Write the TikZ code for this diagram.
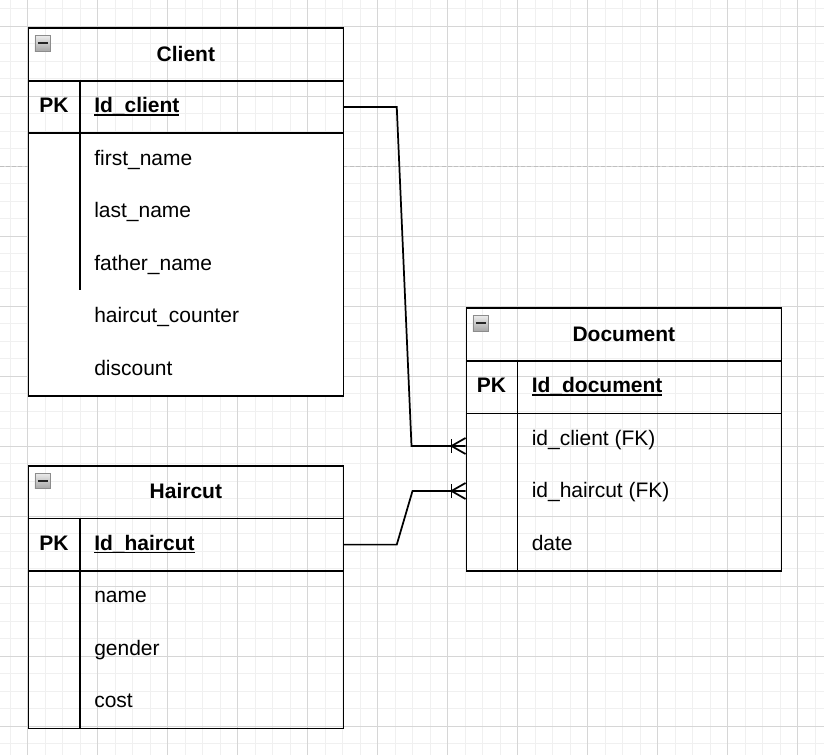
\documentclass[tikz,border=0pt]{standalone}
\usepackage{fontspec}
\setmainfont{Liberation Sans}
\newcommand\myul[1]{\setbox0\hbox{#1}\rlap{\rule[-2.1pt]{\wd0}{1pt}}\box0}
\begin{document}
\begin{tikzpicture}[x=0.75pt,y=-0.75pt,
  minorgrid/.style={draw=black!6, line width=0.75pt},
  majorgrid/.style={draw=black!16, line width=0.75pt},
  pagebreak/.style={draw=black!25, line width=0.9pt, dash pattern=on 3pt off 1.6pt},
  tbl/.style={draw, line width=1.3pt, inner sep=0pt, anchor=north west, minimum width=236.25pt},
  hdr/.style={tbl, minimum height=39.375pt, font=\fontsize{15.75}{18}\selectfont\bfseries, text height=0.98em, text depth=0pt},
  pkrow/.style={tbl, minimum height=39.375pt},
  txt/.style={inner sep=0pt, font=\fontsize{15.75}{18}\selectfont, text height=0.98em, text depth=0pt},
  fld/.style={txt, anchor=west},
  keyfld/.style={txt, anchor=west, font=\fontsize{15.75}{18}\selectfont\bfseries},
  pklab/.style={txt, font=\fontsize{15.75}{18}\selectfont\bfseries},
  divider/.style={line width=1.3pt},
  conn/.style={line width=1.3pt, line join=miter},
  minusicon/.style={draw=black!45, line width=0.6pt, top color=black!8, bottom color=black!35, minimum size=11.8pt, inner sep=0pt,
    path picture={\draw[line width=1.5pt, black!85] ([xshift=2.2pt]path picture bounding box.west) -- ([xshift=-2.2pt]path picture bounding box.east);}}
]
\useasboundingbox (0,0) rectangle (824,755);
\fill[white] (0,0) rectangle (824,755);
% grid
\foreach \i in {0,...,46} { \draw[minorgrid] ({10+17.5*\i},0) -- ({10+17.5*\i},755); }
\foreach \j in {0,...,42} { \draw[minorgrid] (0,{8.8+17.5*\j}) -- (824,{8.8+17.5*\j}); }
\foreach \i in {0,...,11} { \draw[majorgrid] ({27.5+70*\i},0) -- ({27.5+70*\i},755); }
\foreach \j in {0,...,10} { \draw[majorgrid] (0,{26.3+70*\j}) -- (824,{26.3+70*\j}); }
\draw[pagebreak] (0,166.7) -- (824,166.7);

% ---------- Client ----------
\node[hdr] (cl) at (27.5,27.5) {Client};
\node[pkrow] (cl-pk) at (27.5,80) {};
\node[tbl, minimum height=196.875pt, fill=white] (cl-f) at (27.5,132.5) {};
\node[minusicon] (cl-ic) at (42.8,43.5) {};
\draw[divider] (80,80) -- (80,290);
\node[pklab] (cl-pkl) at (54,106.25) {PK};
\node[keyfld] (cl-id) at (94,106.25) {\myul{Id\_client}};
\node[fld] (cl-f1) at (94,158.75) {first\_name};
\node[fld] (cl-f2) at (94,211.25) {last\_name};
\node[fld] (cl-f3) at (94,263.75) {father\_name};
\node[fld] (cl-f4) at (94,316.25) {haircut\_counter};
\node[fld] (cl-f5) at (94,368.75) {discount};

% ---------- Haircut ----------
\node[hdr] (hc) at (27.5,465) {Haircut};
\node[pkrow] (hc-pk) at (27.5,517.5) {};
\node[tbl, minimum height=118.125pt] (hc-f) at (27.5,570) {};
\node[minusicon] (hc-ic) at (42.8,481) {};
\draw[divider] (80,517.5) -- (80,727.5);
\node[pklab] (hc-pkl) at (54,543.75) {PK};
\node[keyfld] (hc-id) at (94,543.75) {\myul{Id\_haircut}};
\node[fld] (hc-f1) at (94,596.25) {name};
\node[fld] (hc-f2) at (94,648.75) {gender};
\node[fld] (hc-f3) at (94,701.25) {cost};

% ---------- Document ----------
\node[hdr] (doc) at (465.5,307.5) {Document};
\node[pkrow] (doc-pk) at (465.5,360) {};
\node[tbl, minimum height=118.125pt] (doc-f) at (465.5,412.5) {};
\node[minusicon] (doc-ic) at (480.8,323.5) {};
\draw[divider] (517.5,360) -- (517.5,570);
\node[pklab] (doc-pkl) at (491.5,386.25) {PK};
\node[keyfld] (doc-id) at (531.5,386.25) {\myul{Id\_document}};
\node[fld] (doc-f1) at (531.5,438.75) {id\_client (FK)};
\node[fld] (doc-f2) at (531.5,491.25) {id\_haircut (FK)};
\node[fld] (doc-f3) at (531.5,543.75) {date};

% ---------- connectors ----------
\coordinate (c1a) at ([xshift=39.4pt]cl-pk.east);
\coordinate (c1b) at (411.5,446);
\coordinate (c1e) at (465.5,446);
\draw[conn] (cl-pk.east) -- (c1a) -- (c1b) -- (c1e);
\draw[conn] (451.5,439) -- (451.5,453);
\draw[conn] (465.5,438) -- (451.5,446) -- (465.5,454);

\coordinate (c2a) at ([xshift=39.4pt]hc-pk.east);
\coordinate (c2b) at (412.5,491);
\coordinate (c2e) at (465.5,491);
\draw[conn] (hc-pk.east) -- (c2a) -- (c2b) -- (c2e);
\draw[conn] (451.5,484) -- (451.5,498);
\draw[conn] (465.5,483) -- (451.5,491) -- (465.5,499);
\end{tikzpicture}
\end{document}
